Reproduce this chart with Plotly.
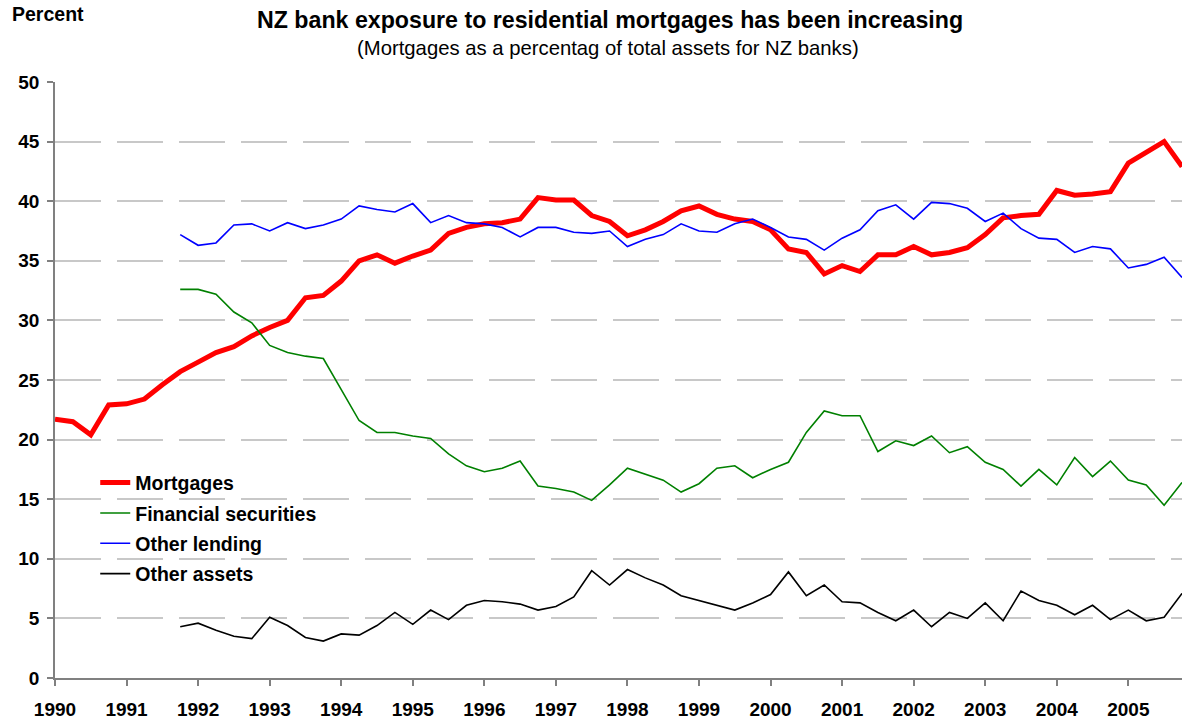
import plotly.graph_objects as go

# Quarterly observations, 1990 Q1 .. 2005 Q4 (64 quarters)
start_year = 1990
n_quarters = 64
quarters = [start_year + 0.25 * i for i in range(n_quarters)]

mortgages = [21.7, 21.5, 20.4, 22.9, 23.0, 23.4, 24.6, 25.7,
             26.5, 27.3, 27.8, 28.7, 29.4, 30.0, 31.9, 32.1,
             33.3, 35.0, 35.5, 34.8, 35.4, 35.9, 37.3, 37.8,
             38.1, 38.2, 38.5, 40.3, 40.1, 40.1, 38.8, 38.3,
             37.1, 37.6, 38.3, 39.2, 39.6, 38.9, 38.5, 38.3,
             37.6, 36.0, 35.7, 33.9, 34.6, 34.1, 35.5, 35.5,
             36.2, 35.5, 35.7, 36.1, 37.2, 38.6, 38.8, 38.9,
             40.9, 40.5, 40.6, 40.8, 43.2, 44.1, 45.0, 42.9]

financial_securities = [None] * 7 + [
    32.6, 32.6, 32.2, 30.7, 29.8, 27.9, 27.3, 27.0, 26.8,
    24.2, 21.6, 20.6, 20.6, 20.3, 20.1, 18.8, 17.8, 17.3, 17.6, 18.2,
    16.1, 15.9, 15.6, 14.9, 16.2, 17.6, 17.1, 16.6, 15.6, 16.3, 17.6,
    17.8, 16.8, 17.5, 18.1, 20.6, 22.4, 22.0, 22.0, 19.0, 19.9, 19.5,
    20.3, 18.9, 19.4, 18.1, 17.5, 16.1, 17.5, 16.2, 18.5, 16.9, 18.2,
    16.6, 16.2, 14.5, 16.4]

other_lending = [None] * 7 + [
    37.2, 36.3, 36.5, 38.0, 38.1, 37.5, 38.2, 37.7, 38.0,
    38.5, 39.6, 39.3, 39.1, 39.8, 38.2, 38.8, 38.2, 38.1, 37.8, 37.0,
    37.8, 37.8, 37.4, 37.3, 37.5, 36.2, 36.8, 37.2, 38.1, 37.5, 37.4,
    38.1, 38.5, 37.8, 37.0, 36.8, 35.9, 36.9, 37.6, 39.2, 39.7, 38.5,
    39.9, 39.8, 39.4, 38.3, 39.0, 37.7, 36.9, 36.8, 35.7, 36.2, 36.0,
    34.4, 34.7, 35.3, 33.6]

other_assets = [None] * 7 + [
    4.3, 4.6, 4.0, 3.5, 3.3, 5.1, 4.4, 3.4, 3.1,
    3.7, 3.6, 4.4, 5.5, 4.5, 5.7, 4.9, 6.1, 6.5, 6.4, 6.2,
    5.7, 6.0, 6.8, 9.0, 7.8, 9.1, 8.4, 7.8, 6.9, 6.5, 6.1,
    5.7, 6.3, 7.0, 8.9, 6.9, 7.8, 6.4, 6.3, 5.5, 4.8, 5.7,
    4.3, 5.5, 5.0, 6.3, 4.8, 7.3, 6.5, 6.1, 5.3, 6.1, 4.9,
    5.7, 4.8, 5.1, 7.1]

year_ticks = list(range(1990, 2006))
year_labels = [str(y) for y in year_ticks]
y_ticks = list(range(0, 51, 5))

series_names = ["Mortgages", "Financial securities", "Other lending", "Other assets"]

FONT = "Liberation Sans, Arial, sans-serif"

fig = go.Figure()
fig.add_trace(go.Scatter(x=quarters, y=mortgages, mode="lines", name=series_names[0],
                         line=dict(color="#FF0000", width=5), legendgroup="a"))
fig.add_trace(go.Scatter(x=quarters, y=financial_securities, mode="lines", name=series_names[1],
                         line=dict(color="#008000", width=1.6), legendgroup="b"))
fig.add_trace(go.Scatter(x=quarters, y=other_lending, mode="lines", name=series_names[2],
                         line=dict(color="#0000FF", width=1.6), legendgroup="c"))
fig.add_trace(go.Scatter(x=quarters, y=other_assets, mode="lines", name=series_names[3],
                         line=dict(color="#000000", width=1.6), legendgroup="d"))

fig.update_layout(
    width=1182, height=723,
    margin=dict(l=55, r=0, t=82, b=45),
    paper_bgcolor="white", plot_bgcolor="white",
    font=dict(family=FONT, color="black"),
    showlegend=True,
    legend=dict(x=0.0357, y=0.36, xanchor="left", yanchor="top",
                bgcolor="rgba(0,0,0,0)", borderwidth=0,
                font=dict(family=FONT, size=19.5, color="black", weight="bold"),
                traceorder="grouped", tracegroupgap=2, itemwidth=30),
    annotations=[
        dict(text="<b>NZ bank exposure to residential mortgages has been increasing</b>",
             xref="paper", yref="paper", x=(610 - 55) / 1127, y=1, yshift=62,
             xanchor="center", yanchor="middle", showarrow=False,
             font=dict(family=FONT, size=23.2, color="black")),
        dict(text="(Mortgages as a percentag of total assets for NZ banks)",
             xref="paper", yref="paper", x=(608 - 55) / 1127, y=1, yshift=34,
             xanchor="center", yanchor="middle", showarrow=False,
             font=dict(family=FONT, size=20.3, color="black")),
        dict(text="<b>Percent</b>",
             xref="paper", yref="paper", x=0, xshift=-45, y=1, yshift=68,
             xanchor="left", yanchor="middle", showarrow=False,
             font=dict(family=FONT, size=19.5, color="black")),
    ],
)

fig.update_xaxes(
    range=[1990, 2005.75],
    tickmode="array", tickvals=year_ticks, ticktext=year_labels,
    ticks="outside", ticklen=6, tickcolor="#808080", tickwidth=1.5,
    showline=True, linecolor="#808080", linewidth=1.5,
    showgrid=False, zeroline=False,
    tickfont=dict(family=FONT, size=19, color="black", weight="bold"),
    ticklabelstandoff=7,
)
fig.update_yaxes(
    range=[0, 50],
    tickmode="array", tickvals=y_ticks,
    ticks="outside", ticklen=6, tickcolor="#808080", tickwidth=1.5,
    showline=True, linecolor="#808080", linewidth=1.5,
    showgrid=True, gridcolor="#C8C8C8", gridwidth=1.5, griddash="46px,16px",
    zeroline=False,
    tickfont=dict(family=FONT, size=19, color="black", weight="bold"),
    ticklabelstandoff=4,
)

fig.write_html("out.html", config={"displayModeBar": False},
               post_script="document.body.style.margin='0px';")
